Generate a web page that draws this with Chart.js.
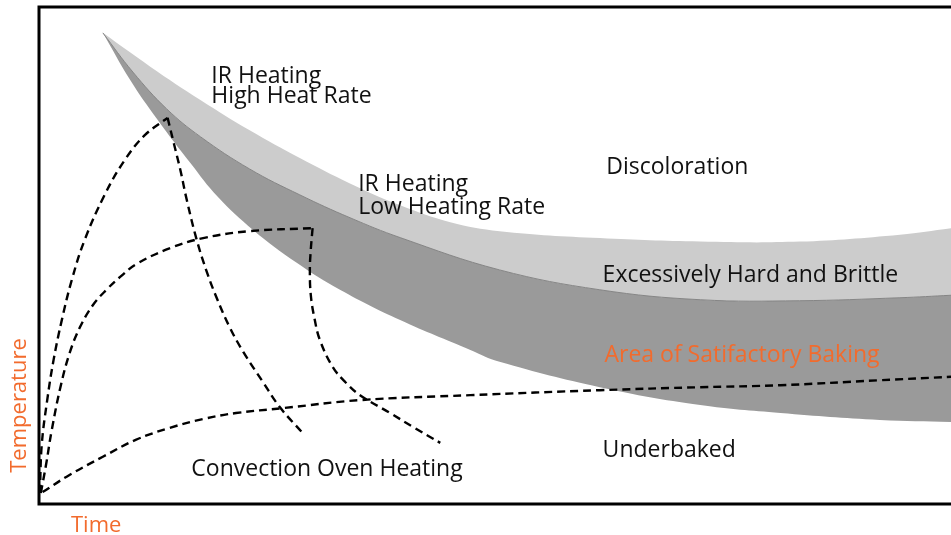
<!DOCTYPE html>
<html>
<head>
<meta charset="utf-8">
<script src="https://cdn.jsdelivr.net/npm/chart.js@4/dist/chart.umd.min.js"></script>
<style>
  html, body { margin: 0; padding: 0; background: #ffffff; overflow: hidden; }
  #wrap { position: relative; width: 951px; height: 535px; }
</style>
</head>
<body>
<div id="wrap"><canvas id="c"></canvas></div>
<script>
// ---- Data (time 0-100, temperature 0-100, arbitrary schematic units) ----
const upperTime  = [7.0, 12.2, 17.7, 23.1, 28.6, 34.1, 39.6, 45.1, 50.5, 61.5, 72.5, 83.4, 94.4, 100];
const upperTemp  = [94.8, 88.0, 81.3, 75.2, 69.6, 64.5, 60.1, 56.7, 54.9, 53.5, 52.8, 52.8, 54.2, 55.5];

const middleTime = [7.0, 10.3, 14.0, 17.7, 23.1, 28.6, 34.1, 39.6, 50.5, 61.5, 72.5, 83.4, 94.4, 100];
const middleTemp = [94.8, 86.9, 79.5, 73.9, 67.4, 62.2, 57.6, 53.6, 47.1, 43.1, 41.1, 40.9, 41.5, 42.0];

const lowerTime  = [7.0, 10.0, 13.0, 16.6, 19.6, 23.5, 28.3, 33.0, 39.6, 47.3, 50.5, 61.5, 72.5, 81.3, 92.2, 100];
const lowerTemp  = [94.8, 85.3, 77.3, 68.6, 61.8, 55.1, 48.5, 43.1, 37.0, 31.0, 28.6, 23.5, 19.9, 18.3, 16.9, 16.5];

const irHighRiseTime = [0.1, 0.3, 0.9, 1.6, 2.5, 3.6, 5.0, 7.2, 9.4, 11.6, 14.1];
const irHighRiseTemp = [2.2, 11.9, 20.9, 29.0, 37.0, 45.1, 53.1, 62.2, 69.2, 74.2, 77.7];
const irHighFallTime = [14.1, 14.7, 15.5, 16.2, 17.3, 18.4, 19.5, 20.9, 22.4, 24.5, 26.4, 28.8];
const irHighFallTemp = [77.7, 73.2, 67.2, 61.2, 53.1, 46.7, 41.4, 35.6, 30.6, 24.7, 19.5, 14.5];

const irLowRiseTime = [0.2, 0.8, 1.4, 2.4, 3.4, 4.5, 5.9, 7.5, 8.9, 10.7, 14.4, 18.0, 23.1, 30.0];
const irLowRiseTemp = [2.2, 8.2, 14.9, 23.9, 30.6, 35.6, 40.0, 43.3, 45.7, 48.3, 51.5, 53.5, 54.9, 55.5];
const irLowFallTime = [30.0, 29.8, 29.7, 29.8, 30.2, 30.8, 32.2, 33.6, 35.2, 38.5, 41.2, 44.0];
const irLowFallTemp = [55.5, 51.1, 47.1, 42.1, 37.4, 33.0, 27.6, 24.5, 21.9, 18.3, 15.3, 12.3];

const convTime = [0.4, 3.3, 7.0, 10.6, 14.3, 18.0, 21.6, 26.8, 35.2, 47.3, 61.5, 72.5, 81.3, 92.2, 100];
const convTemp = [2.4, 5.8, 9.5, 12.9, 15.3, 17.1, 18.3, 19.3, 20.9, 21.9, 22.9, 23.5, 23.9, 24.9, 25.6];

// Text labels
const labelTexts = ["IR Heating", "High Heat Rate", "IR Heating", "Low Heating Rate",
  "Discoloration", "Excessively Hard and Brittle", "Area of Satifactory Baking",
  "Underbaked", "Convection Oven Heating"];
const labelTime  = [18.9, 18.9, 35.0, 35.0, 62.2, 61.8, 62.0, 61.8, 16.7];
const labelTemp  = [84.7, 80.7, 63.0, 58.4, 66.4, 44.7, 28.6, 9.5, 5.6];
const labelAccent = [false, false, false, false, false, false, true, false, false];

const xTitle = "Time";
const yTitle = "Temperature";

// ---- build ----
const pts = (xs, ys) => xs.map((x, i) => ({ x: x, y: ys[i] }));
const ORANGE = '#f26b2d';
const FONT = '"Open Sans", "Noto Sans", sans-serif';

const dashed = (xs, ys) => ({
  data: pts(xs, ys), borderColor: '#000', borderWidth: 2.4, borderDash: [8, 5],
  fill: false, pointRadius: 0, order: 0, tension: 0.4
});

const framePlugin = {
  id: 'frame',
  afterDatasetsDraw(chart) {
    const { ctx, chartArea: a } = chart;
    ctx.save();
    ctx.strokeStyle = '#000';
    ctx.lineWidth = 3;
    ctx.beginPath();
    ctx.moveTo(chart.width, a.top);
    ctx.lineTo(a.left, a.top);
    ctx.lineTo(a.left, a.bottom);
    ctx.lineTo(chart.width, a.bottom);
    ctx.stroke();
    ctx.restore();
  }
};

const labelPlugin = {
  id: 'labels',
  afterDraw(chart) {
    const { ctx, chartArea: a } = chart;
    const xs = chart.scales.x, ys = chart.scales.y;
    ctx.save();
    ctx.font = '23px ' + FONT;
    ctx.textBaseline = 'alphabetic';
    ctx.textAlign = 'left';
    labelTexts.forEach((t, i) => {
      ctx.fillStyle = labelAccent[i] ? ORANGE : '#111';
      ctx.fillText(t, xs.getPixelForValue(labelTime[i]), ys.getPixelForValue(labelTemp[i]));
    });
    ctx.font = '22px ' + FONT;
    ctx.fillStyle = ORANGE;
    ctx.fillText(xTitle, a.left + 32, a.bottom + 28);
    ctx.translate(a.left - 13, (a.top + a.bottom) / 2 + 150);
    ctx.rotate(-Math.PI / 2);
    ctx.textAlign = 'center';
    ctx.fillText(yTitle, 0, 0);
    ctx.restore();
  }
};

new Chart(document.getElementById('c'), {
  type: 'line',
  data: {
    datasets: [
      dashed(irHighRiseTime, irHighRiseTemp),
      dashed(irHighFallTime, irHighFallTemp),
      dashed(irLowRiseTime, irLowRiseTemp),
      dashed(irLowFallTime, irLowFallTemp),
      dashed(convTime, convTemp),
      { data: pts(upperTime, upperTemp), borderWidth: 0, borderColor: 'rgba(0,0,0,0)',
        backgroundColor: '#cccccc', fill: '+1', pointRadius: 0, tension: 0.4, order: 10 },
      { data: pts(middleTime, middleTemp), borderWidth: 1, borderColor: '#858585',
        backgroundColor: '#9a9a9a', fill: '+1', pointRadius: 0, tension: 0.4, order: 9 },
      { data: pts(lowerTime, lowerTemp), borderWidth: 0, borderColor: 'rgba(0,0,0,0)',
        fill: false, pointRadius: 0, tension: 0.4, order: 11 }
    ]
  },
  options: {
    responsive: true,
    maintainAspectRatio: false,
    animation: false,
    layout: { padding: { left: 39, top: 7, right: 0, bottom: 31 } },
    plugins: { legend: { display: false }, tooltip: { enabled: false } },
    scales: {
      x: { type: 'linear', min: 0, max: 100, display: false },
      y: { type: 'linear', min: 0, max: 100, display: false }
    }
  },
  plugins: [framePlugin, labelPlugin]
});
</script>
</body>
</html>
